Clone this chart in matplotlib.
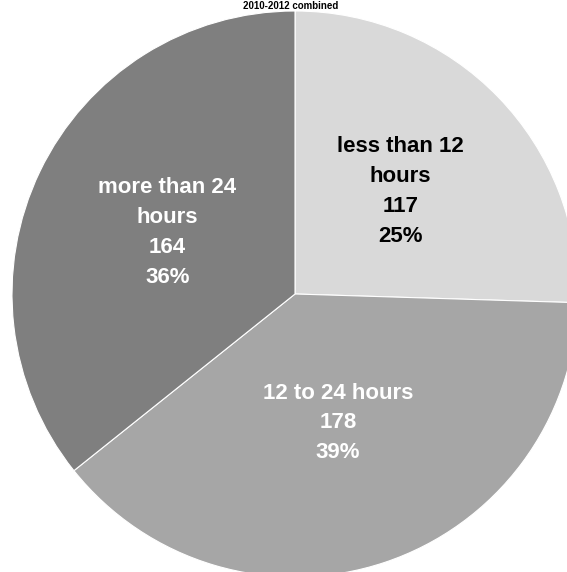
import numpy as np
import matplotlib
matplotlib.use('Agg')
import matplotlib.pyplot as plt

# data
categories = ['less than 12\nhours', '12 to 24 hours', 'more than 24\nhours']
counts = [117, 178, 164]
colors = ['#d9d9d9', '#a6a6a6', '#7f7f7f']
text_colors = ['black', 'white', 'white']
label_r = [0.52, 0.48, 0.50]

plt.rcParams['font.family'] = ['Liberation Sans', 'DejaVu Sans']

fig = plt.figure(figsize=(5.67, 5.72), dpi=100)
cx, cy, r = 295, 294, 283  # pixel centre / radius
ax = fig.add_axes([(cx - r) / 567, (572 - cy - r) / 572, 2 * r / 567, 2 * r / 572])
wedges, _ = ax.pie(counts, colors=colors, startangle=90, counterclock=False,
                   radius=1, wedgeprops=dict(edgecolor='white', linewidth=0.8))
ax.set_xlim(-1, 1)
ax.set_ylim(-1, 1)
ax.set_aspect('equal')
ax.axis('off')

total = sum(counts)
for w, cat, n, tc, rr in zip(wedges, categories, counts, text_colors, label_r):
    ang = np.deg2rad((w.theta1 + w.theta2) / 2)
    txt = '%s\n%d\n%d%%' % (cat, n, round(100.0 * n / total))
    ax.text(rr * np.cos(ang), rr * np.sin(ang), txt, ha='center', va='center',
            color=tc, fontsize=16, fontweight='bold', linespacing=1.55)

fig.text(0.512, 0.999, '2010-2012 combined', ha='center', va='top',
         fontsize=7, fontweight='bold')

fig.savefig('out.png', dpi=100)
